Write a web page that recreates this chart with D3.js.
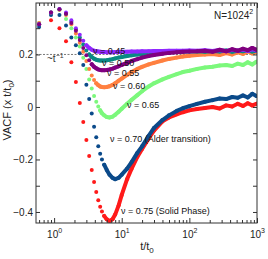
<!DOCTYPE html>
<html>
<head>
<meta charset="utf-8">
<script src="https://cdn.jsdelivr.net/npm/d3@7"></script>
<style>
  body { margin: 0; background: #fff; }
  text { font-family: "Liberation Sans", Arial, sans-serif; }
</style>
</head>
<body>
<div id="chart"></div>
<script>
// t/t0 sampling (shared by every density)
var times = [0.6, 0.9, 1.2, 1.5, 1.8, 2.1, 2.4, 2.7, 3.0, 3.3, 3.6, 3.9, 4.2, 4.5, 4.8, 5.1,
  5.5, 6, 6.6, 7.3, 8, 9, 10, 12, 14, 17, 20, 25, 30, 40, 50, 65, 80, 100, 130, 170, 220, 280, 350, 430, 520, 620, 730, 850, 980];

// VACF x t/t0
var nu075 = [0.315, 0.33, 0.30, 0.25, 0.17, 0.095, 0.015, -0.057, -0.126, -0.187, -0.24, -0.286, -0.324, -0.355, -0.38, -0.398,
  -0.415, -0.428, -0.434, -0.428, -0.41, -0.375, -0.335, -0.275, -0.235, -0.19, -0.16, -0.12, -0.09, -0.055, -0.04, -0.028, -0.02, -0.013, -0.008, -0.004, 0.0, -0.006, 0.006, 0.002, 0.012, 0.004, 0.014, 0.006, 0.012];
var nu070 = [0.305, 0.35, 0.35, 0.31, 0.265, 0.235, 0.205, 0.16, 0.085, 0.03, -0.025, -0.075, -0.115, -0.15, -0.178, -0.2,
  -0.22, -0.24, -0.258, -0.27, -0.275, -0.27, -0.258, -0.235, -0.21, -0.175, -0.15, -0.11, -0.08, -0.05, -0.032, -0.015, -0.005, 0.003, 0.012, 0.02, 0.026, 0.032, 0.03, 0.038, 0.035, 0.044, 0.036, 0.05, 0.042];
var nu065 = [0.32, 0.36, 0.37, 0.335, 0.30, 0.265, 0.23, 0.187, 0.145, 0.105, 0.07, 0.042, 0.02, 0.002, -0.013, -0.024,
  -0.032, -0.038, -0.04, -0.037, -0.03, -0.018, -0.007, 0.012, 0.027, 0.045, 0.06, 0.078, 0.09, 0.105, 0.115, 0.125, 0.133, 0.138, 0.145, 0.15, 0.153, 0.158, 0.16, 0.156, 0.165, 0.16, 0.17, 0.162, 0.172];
var nu060 = [0.32, 0.36, 0.37, 0.35, 0.315, 0.28, 0.245, 0.21, 0.175, 0.145, 0.12, 0.103, 0.09, 0.083, 0.078, 0.076,
  0.075, 0.076, 0.079, 0.084, 0.09, 0.1, 0.108, 0.122, 0.133, 0.145, 0.153, 0.162, 0.168, 0.177, 0.183, 0.188, 0.192, 0.195, 0.198, 0.2, 0.202, 0.198, 0.205, 0.2, 0.208, 0.202, 0.212, 0.204, 0.21];
var nu055 = [0.315, 0.36, 0.372, 0.355, 0.32, 0.29, 0.255, 0.225, 0.197, 0.178, 0.163, 0.153, 0.147, 0.143, 0.141, 0.14,
  0.14, 0.141, 0.143, 0.146, 0.15, 0.155, 0.16, 0.168, 0.175, 0.182, 0.188, 0.194, 0.198, 0.203, 0.206, 0.208, 0.21, 0.211, 0.212, 0.214, 0.21, 0.218, 0.212, 0.22, 0.214, 0.222, 0.216, 0.225, 0.218];
var nu050 = [0.315, 0.36, 0.372, 0.355, 0.325, 0.295, 0.265, 0.238, 0.215, 0.2, 0.19, 0.184, 0.18, 0.178, 0.177, 0.177,
  0.177, 0.178, 0.18, 0.182, 0.185, 0.188, 0.19, 0.194, 0.197, 0.2, 0.202, 0.205, 0.207, 0.208, 0.209, 0.21, 0.21, 0.211, 0.212, 0.21, 0.213, 0.211, 0.215, 0.21, 0.214, 0.212, 0.216, 0.211, 0.214];
var nu045 = [0.315, 0.36, 0.373, 0.36, 0.33, 0.30, 0.275, 0.252, 0.235, 0.225, 0.218, 0.214, 0.212, 0.211, 0.21, 0.209,
  0.209, 0.208, 0.208, 0.208, 0.209, 0.209, 0.21, 0.21, 0.211, 0.211, 0.212, 0.212, 0.213, 0.213, 0.214, 0.214, 0.214, 0.215, 0.214, 0.216, 0.213, 0.217, 0.212, 0.218, 0.214, 0.219, 0.213, 0.22, 0.215];

var seriesNames = ["0.75", "0.70", "0.65", "0.60", "0.50", "0.45", "0.55"];
var seriesValues = { "0.75": nu075, "0.70": nu070, "0.65": nu065, "0.60": nu060, "0.55": nu055, "0.50": nu050, "0.45": nu045 };
var seriesColors = { "0.75": "#ff1a1a", "0.70": "#0b4a8a", "0.65": "#7cf87c", "0.60": "#ff8040", "0.55": "#800080", "0.50": "#0a8a84", "0.45": "#9028ff" };
// where the dots get so close they read as a thick line
var denseFrom = { "0.75": 5.5, "0.70": 5.5, "0.65": 4.8, "0.60": 4.2, "0.55": 3.6, "0.50": 3.3, "0.45": 3.0 };

var xTickValues = [1, 10, 100, 1000];
var yTickValues = [-0.4, -0.2, 0, 0.2];
var yMinorValues = [-0.3, -0.1, 0.1, 0.3];

var labels = [
  { text: "ν = 0.45", x: 93, y: 54 },
  { text: "ν = 0.50", x: 102, y: 66 },
  { text: "ν = 0.55", x: 107, y: 76 },
  { text: "ν = 0.60", x: 113, y: 89 },
  { text: "ν = 0.65", x: 127, y: 108 },
  { text: "ν = 0.70 (Alder transition)", x: 110, y: 142 },
  { text: "ν = 0.75 (Solid Phase)", x: 121, y: 214 }
];

var margin = { top: 3, right: 11, bottom: 36, left: 36 };
var width = 268 - margin.left - margin.right;
var height = 259 - margin.top - margin.bottom;

var svg = d3.select("#chart").append("svg")
  .attr("width", 268)
  .attr("height", 259);

var g = svg.append("g").attr("transform", `translate(${margin.left},${margin.top})`);

var x = d3.scaleLog().domain([0.54, 1000]).range([0, width]);
var y = d3.scaleLinear().domain([-0.442, 0.396]).range([height, 0]);

// minor log ticks
var xMinor = [];
[0.1, 1, 10, 100].forEach(function(dec) {
  for (var k = 2; k <= 9; k++) {
    var v = dec * k;
    if (v >= 0.54 && v <= 1000) xMinor.push(v);
  }
});

svg.append("defs").append("clipPath").attr("id", "clip")
  .append("rect").attr("width", width).attr("height", height);

// dashed reference ~ t^-1 level
g.append("line")
  .attr("x1", 0).attr("x2", width)
  .attr("y1", y(0.2)).attr("y2", y(0.2))
  .attr("stroke", "#555").attr("stroke-width", 0.8)
  .attr("stroke-dasharray", "2,1.5");

var plot = g.append("g").attr("clip-path", "url(#clip)");

var line = d3.line().x(d => x(d.t)).y(d => y(d.v));

seriesNames.forEach(function(name) {
  var pts = times.map((t, i) => ({ t: t, v: seriesValues[name][i] }));
  var col = seriesColors[name];
  plot.append("path")
    .datum(pts.filter(d => d.t >= denseFrom[name]))
    .attr("d", line)
    .attr("fill", "none")
    .attr("stroke", col)
    .attr("stroke-width", 4)
    .attr("stroke-linejoin", "round")
    .attr("stroke-linecap", "round");
  plot.selectAll(null)
    .data(pts)
    .join("circle")
    .attr("cx", d => x(d.t))
    .attr("cy", d => y(d.v))
    .attr("r", 2)
    .attr("fill", col);
});

// axes, ticks pointing inward
function styleAxis(sel) {
  sel.select(".domain").remove();
  sel.selectAll(".tick line").attr("stroke", "#333");
  sel.selectAll("text").attr("fill", "#222").style("font-size", "10px");
}

var gx = g.append("g").attr("transform", `translate(0,${height})`)
  .call(d3.axisBottom(x).tickValues(xTickValues).tickSize(-5).tickPadding(8));
gx.call(styleAxis);
gx.selectAll(".tick text").text(null).attr("dy", null).attr("y", 15)
  .each(function(d) {
    var t = d3.select(this);
    t.append("tspan").text("10");
    t.append("tspan").attr("dy", -5).style("font-size", "7px").text(Math.round(Math.log10(d)));
  });
g.append("g").attr("transform", `translate(0,${height})`)
  .call(d3.axisBottom(x).tickValues(xMinor).tickSize(-3).tickFormat(""))
  .call(styleAxis);
g.append("g")
  .call(d3.axisTop(x).tickValues(xTickValues).tickSize(-5).tickFormat(""))
  .call(styleAxis);
g.append("g")
  .call(d3.axisTop(x).tickValues(xMinor).tickSize(-3).tickFormat(""))
  .call(styleAxis);

g.append("g")
  .call(d3.axisLeft(y).tickValues(yTickValues).tickSize(-4).tickPadding(3)
    .tickFormat(d => d === 0 ? "0" : d3.format(".1f")(d)))
  .call(styleAxis);
g.append("g")
  .call(d3.axisLeft(y).tickValues(yMinorValues).tickSize(-4).tickFormat(""))
  .call(styleAxis);
g.append("g").attr("transform", `translate(${width},0)`)
  .call(d3.axisRight(y).tickValues(yTickValues.concat(yMinorValues)).tickSize(-4).tickFormat(""))
  .call(styleAxis);

// frame
g.append("rect")
  .attr("width", width).attr("height", height)
  .attr("fill", "none").attr("stroke", "#333").attr("stroke-width", 1);

// curve labels
g.selectAll(".nuLabel")
  .data(labels)
  .join("text")
  .attr("class", "nuLabel")
  .attr("x", d => d.x - margin.left)
  .attr("y", d => d.y - margin.top)
  .attr("fill", "#111")
  .style("font-size", "9px")
  .text(d => d.text);

var tl = g.append("text")
  .attr("x", 47 - margin.left).attr("y", 62 - margin.top)
  .attr("fill", "#333").style("font-size", "10px");
tl.append("tspan").text("~t");
tl.append("tspan").attr("dy", -4).style("font-size", "7px").text("−1");

var nl = svg.append("text")
  .attr("x", 214).attr("y", 19)
  .attr("fill", "#222").style("font-size", "10px");
nl.append("tspan").text("N=1024");
nl.append("tspan").attr("dy", -5).style("font-size", "7px").text("2");

// axis titles
var xl = svg.append("text")
  .attr("x", 147).attr("y", 250)
  .attr("text-anchor", "middle")
  .attr("fill", "#222").style("font-size", "11px");
xl.append("tspan").text("t/t");
xl.append("tspan").attr("dy", 3).style("font-size", "8px").text("0");

var yl = svg.append("text")
  .attr("transform", "translate(11,110) rotate(-90)")
  .attr("text-anchor", "middle")
  .attr("fill", "#222").style("font-size", "11px");
yl.append("tspan").text("VACF (x t/t");
yl.append("tspan").attr("dy", 3).style("font-size", "8px").text("0");
yl.append("tspan").attr("dy", -3).text(")");
</script>
</body>
</html>
